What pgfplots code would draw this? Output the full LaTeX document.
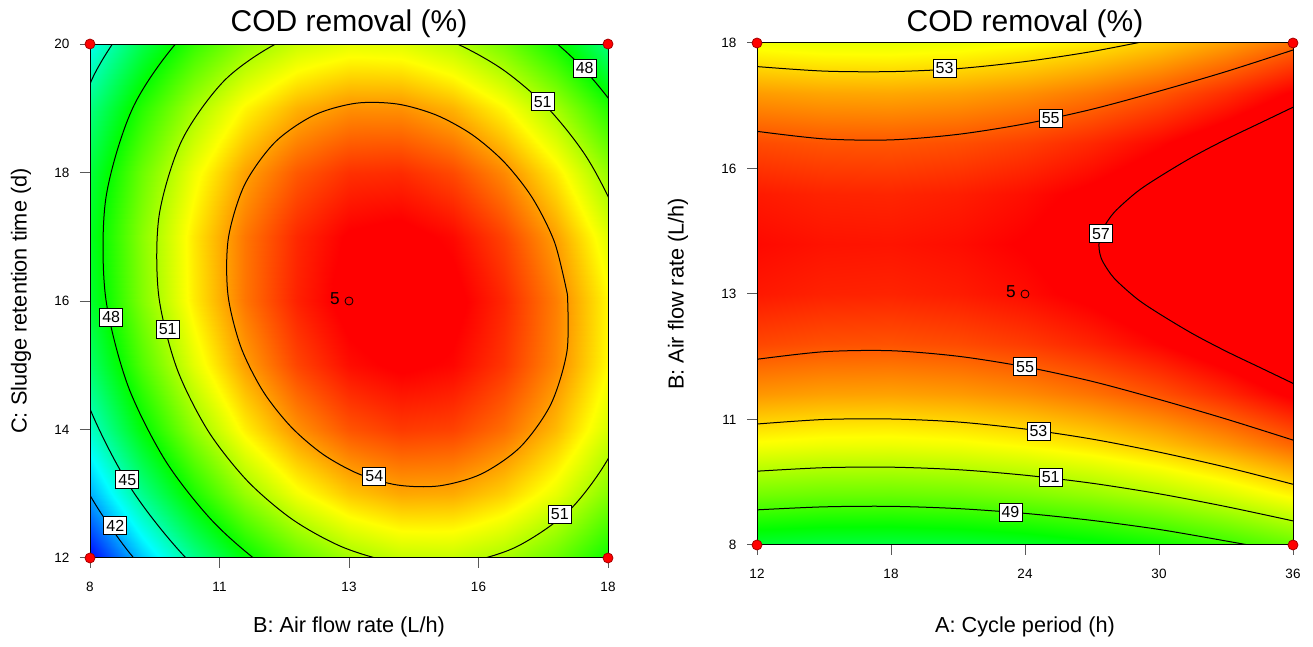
\documentclass[border=0pt]{standalone}
\usepackage{pgfplots}
\pgfplotsset{compat=1.18}
\usepackage{fontspec}
\setmainfont{Liberation Sans}
\tikzset{
  lab/.style={draw=black, line width=0.4pt, fill=white, inner xsep=1.3pt, inner ysep=1.7pt, font=\fontsize{8}{9}\selectfont},
}
\pgfplotsset{
  every axis title shift=0pt,
  codbase/.style={
    scale only axis, enlargelimits=false, axis on top=false, clip mode=individual,
    tick align=outside, tick pos=left, major tick length=5pt,
    tick style={black!65, line width=0.5pt},
    axis line style={black, line width=0.5pt},
    colormap={cod}{rgb(0pt)=(0,0,1) rgb(45pt)=(0,1,1) rgb(88pt)=(0,1,0) rgb(133pt)=(1,1,0) rgb(175pt)=(1,0,0) rgb(201pt)=(1,0,0)},
    point meta min=39, point meta max=59.1,
    ticklabel style={font=\fontsize{6.75}{8}\selectfont},
    xticklabel style={yshift=-3.5pt},
    yticklabel style={xshift=-1.8pt},
    title={COD removal (\%)},
    label style={font=\fontsize{10.85}{13}\selectfont, inner sep=0pt},
  },
  cline/.style={black, line width=0.5pt, smooth, no markers},
  corner/.style={only marks, mark=*, mark size=2.5pt, mark options={fill=red, draw=red!65!black, line width=0.4pt}},
}
\begin{document}
\begin{tikzpicture}[x=1pt,y=1pt]
\path (0,0) rectangle (656.5,323.5);
% ---------------- left plot ----------------
\begin{axis}[codbase, at={(45pt,44.5pt)}, anchor=south west, width=259pt, height=257pt,
  xmin=8, xmax=18, ymin=12, ymax=20,
  xtick={8,10.5,13,15.5,18}, xticklabels={8,11,13,16,18},
  ytick={12,14,16,18,20}, yticklabels={12,14,16,18,20},
  xlabel={B: Air flow rate (L/h)}, ylabel={C: Sludge retention time (d)},
  xlabel style={at={(axis description cs:0.5,-0.1342)}, anchor=center},
  ylabel style={at={(axis description cs:-0.1332,0.5)}, anchor=center},
  title style={at={(axis description cs:0.5,1.0399)}, anchor=center, inner sep=0pt, font=\fontsize{15}{18}\selectfont},
]
\addplot[surf, shader=interp, mesh/cols=11, point meta=explicit] table[x=x, y=y, meta=z] {
x y z
8 12 39.06
9 12 42.51
10 12 45.39
11 12 47.71
12 12 49.45
13 12 50.63
14 12 51.24
15 12 51.28
16 12 50.75
17 12 49.66
18 12 48.01
8 13 42.08
9 13 45.44
10 13 48.23
11 13 50.47
12 13 52.12
13 13 53.21
14 13 53.74
15 13 53.69
16 13 53.07
17 13 51.90
18 13 50.15
8 14 44.40
9 14 47.68
10 14 50.38
11 14 52.53
12 14 54.09
13 14 55.10
14 14 55.53
15 14 55.40
16 14 54.69
17 14 53.43
18 14 51.59
8 15 46.03
9 15 49.22
10 15 51.84
11 15 53.89
12 15 55.37
13 15 56.29
14 15 56.64
15 15 56.41
16 15 55.62
17 15 54.27
18 15 52.34
8 16 46.98
9 16 50.08
10 16 52.61
11 16 54.57
12 16 55.96
13 16 56.79
14 16 57.05
15 16 56.74
16 16 55.86
17 16 54.42
18 16 52.41
8 17 47.22
9 17 50.23
10 17 52.67
11 17 54.55
12 17 55.85
13 17 56.59
14 17 56.76
15 17 56.37
16 17 55.40
17 17 53.87
18 17 51.77
8 18 46.77
9 18 49.70
10 18 52.05
11 18 53.84
12 18 55.05
13 18 55.71
14 18 55.79
15 18 55.30
16 18 54.25
17 18 52.63
18 18 50.44
8 19 45.63
9 19 48.46
10 19 50.73
11 19 52.43
12 19 53.56
13 19 54.12
14 19 54.11
15 19 53.54
16 19 52.39
17 19 50.69
18 19 48.41
8 20 43.79
9 20 46.54
10 20 48.71
11 20 50.33
12 20 51.37
13 20 51.84
14 20 51.75
15 20 51.09
16 20 49.85
17 20 48.06
18 20 45.70
};
% contour 54
\addplot[cline] coordinates {(17.217,16.10)(16.969,16.912)(16.542,17.602)(15.999,18.160)(15.377,18.589)(14.688,18.893)(13.94,19.065)(13.142,19.079)(12.327,18.893)(11.570,18.470)(10.983,17.807)(10.671,16.976)(10.663,16.10)(10.911,15.288)(11.338,14.598)(11.881,14.041)(12.503,13.611)(13.192,13.307)(13.94,13.135)(14.738,13.122)(15.553,13.307)(16.310,13.730)(16.897,14.393)(17.209,15.224)(17.217,16.10)};
% contour 51
\addplot[cline] coordinates {(18.556,16.10)(18.206,17.243)(17.605,18.216)(16.841,19.001)(15.964,19.605)(14.994,20.034)(13.94,20.276)(12.816,20.295)(11.668,20.034)(10.602,19.438)(9.776,18.504)(9.335,17.334)(9.324,16.10)(9.674,14.957)(10.275,13.984)(11.039,13.199)(11.916,12.595)(12.886,12.166)(13.94,11.924)(15.064,11.905)(16.212,12.166)(17.278,12.762)(18.104,13.696)(18.545,14.866)(18.556,16.10)};
% contour 48
\addplot[cline] coordinates {(12.565,21.231)(11.162,20.912)(9.857,20.183)(8.847,19.041)(8.308,17.609)(8.295,16.10)(8.723,14.702)(9.458,13.512)(10.392,12.552)(11.465,11.813)(12.651,11.289)};
\addplot[cline] coordinates {(19.585,16.10)(19.157,17.498)(18.422,18.688)(17.488,19.648)(16.415,20.387)(15.229,20.911)};
% contour 45
\addplot[cline] coordinates {(10.734,21.652)(9.229,20.811)(8.063,19.493)(7.441,17.841)};
\addplot[cline] coordinates {(7.426,16.10)(7.920,14.487)(8.768,13.114)(9.846,12.006)(11.084,11.153)};
% contour 42
\addplot[cline] coordinates {(7.212,14.297)(7.646,13.493)(8.160,12.763)(8.736,12.107)(9.365,11.525)};
\draw[black, line width=0.5pt] (rel axis cs:0,0) rectangle (rel axis cs:1,1);
\node[lab] at (axis cs:8.49,12.50) {42};
\node[lab] at (axis cs:8.72,13.22) {45};
\node[lab] at (axis cs:8.41,15.75) {48};
\node[lab] at (axis cs:9.50,15.56) {51};
\node[lab] at (axis cs:13.49,13.27) {54};
\node[lab] at (axis cs:17.07,12.68) {51};
\node[lab] at (axis cs:16.74,19.10) {51};
\node[lab] at (axis cs:17.55,19.62) {48};
\addplot[only marks, mark=o, mark size=2pt, mark options={black, line width=0.4pt}] coordinates {(13,16)};
\node[anchor=east, inner sep=0pt, xshift=-4.5pt, yshift=1pt, font=\fontsize{8.6}{10}\selectfont] at (axis cs:13,16) {5};
\addplot[corner] coordinates {(8,12)(18,12)(8,20)(18,20)};
\end{axis}
% ---------------- right plot ----------------
\begin{axis}[codbase, at={(378.5pt,51pt)}, anchor=south west, width=268pt, height=251pt,
  xmin=12, xmax=36, ymin=8, ymax=18,
  xtick={12,18,24,30,36}, xticklabels={12,18,24,30,36},
  ytick={8,10.5,13,15.5,18}, yticklabels={8,11,13,16,18},
  xlabel={A: Cycle period (h)}, ylabel={B: Air flow rate (L/h)},
  xlabel style={at={(axis description cs:0.5,-0.1633)}, anchor=center},
  ylabel style={at={(axis description cs:-0.1474,0.5)}, anchor=center},
  title style={at={(axis description cs:0.5,1.0388)}, anchor=center, inner sep=0pt, font=\fontsize{15}{18}\selectfont},
]
\addplot[surf, shader=interp, mesh/cols=9, point meta=explicit] table[x=x, y=y, meta=z] {
x y z
12 8 46.92
15 8 46.75
18 8 46.73
21 8 46.85
24 8 47.11
27 8 47.51
30 8 48.05
33 8 48.74
36 8 49.56
12 9 49.81
15 9 49.65
18 9 49.63
21 9 49.74
24 9 50.00
27 9 50.40
30 9 50.94
33 9 51.63
36 9 52.45
12 10 52.18
15 10 52.02
18 10 51.99
21 10 52.11
24 10 52.37
27 10 52.77
30 10 53.31
33 10 54.00
36 10 54.82
12 11 54.02
15 11 53.86
18 11 53.83
21 11 53.95
24 11 54.21
27 11 54.61
30 11 55.15
33 11 55.84
36 11 56.66
12 12 55.33
15 12 55.17
18 12 55.14
21 12 55.26
24 12 55.52
27 12 55.92
30 12 56.46
33 12 57.15
36 12 57.97
12 13 56.11
15 13 55.95
18 13 55.92
21 13 56.04
24 13 56.30
27 13 56.70
30 13 57.24
33 13 57.93
36 13 58.75
12 14 56.36
15 14 56.20
18 14 56.17
21 14 56.29
24 14 56.55
27 14 56.95
30 14 57.49
33 14 58.18
36 14 59.00
12 15 56.08
15 15 55.92
18 15 55.89
21 15 56.01
24 15 56.27
27 15 56.67
30 15 57.21
33 15 57.90
36 15 58.72
12 16 55.27
15 16 55.11
18 16 55.08
21 16 55.20
24 16 55.46
27 16 55.86
30 16 56.40
33 16 57.09
36 16 57.91
12 17 53.93
15 17 53.77
18 17 53.74
21 17 53.86
24 17 54.12
27 17 54.52
30 17 55.06
33 17 55.75
36 17 56.57
12 18 52.06
15 18 51.90
18 18 51.87
21 18 51.99
24 18 52.25
27 18 52.65
30 18 53.19
33 18 53.88
36 18 54.70
};
\addplot[cline] coordinates {(12,8.70)(15,8.76)(18,8.77)(21,8.725)(24,8.63)(27,8.49)(30,8.31)(33,8.08)(35,7.92)};
\addplot[cline] coordinates {(12,9.47)(15,9.54)(18,9.55)(21,9.50)(24,9.39)(27,9.23)(30,9.02)(33,8.765)(36,8.48)};
\addplot[cline] coordinates {(12,10.41)(15,10.50)(18,10.51)(21,10.45)(24,10.31)(27,10.11)(30,9.85)(33,9.55)(36,9.21)};
\addplot[cline] coordinates {(12,17.53)(15,17.44)(18,17.43)(21,17.49)(24,17.63)(27,17.83)(30,18.09)};
\addplot[cline] coordinates {(12,11.70)(15,11.85)(18,11.87)(21,11.76)(24,11.55)(27,11.26)(30,10.90)(33,10.51)(36,10.09)};
\addplot[cline] coordinates {(12,16.24)(15,16.09)(18,16.07)(21,16.18)(24,16.39)(27,16.68)(30,17.04)(33,17.43)(36,17.86)};
\addplot[cline] coordinates {(36,16.72)(34.5,16.40)(33,16.08)(31.5,15.73)(30,15.33)(29,15.03)(28,14.63)(27.5,14.31)(27.35,14.13)(27.31,13.97)(27.35,13.81)(27.5,13.63)(28,13.31)(29,12.91)(30,12.61)(31.5,12.21)(33,11.86)(34.5,11.54)(36,11.22)};
\draw[black, line width=0.5pt] (rel axis cs:0,0) rectangle (rel axis cs:1,1);
\node[lab] at (axis cs:20.4,17.50) {53};
\node[lab] at (axis cs:25.15,16.50) {55};
\node[lab] at (axis cs:27.4,14.20) {57};
\node[lab] at (axis cs:24.0,11.55) {55};
\node[lab] at (axis cs:24.6,10.27) {53};
\node[lab] at (axis cs:25.15,9.35) {51};
\node[lab] at (axis cs:23.35,8.65) {49};
\addplot[only marks, mark=o, mark size=2pt, mark options={black, line width=0.4pt}] coordinates {(24,13)};
\node[anchor=east, inner sep=0pt, xshift=-4.5pt, yshift=1pt, font=\fontsize{8.6}{10}\selectfont] at (axis cs:24,13) {5};
\addplot[corner] coordinates {(12,8)(36,8)(12,18)(36,18)};
\end{axis}
\end{tikzpicture}
\end{document}
